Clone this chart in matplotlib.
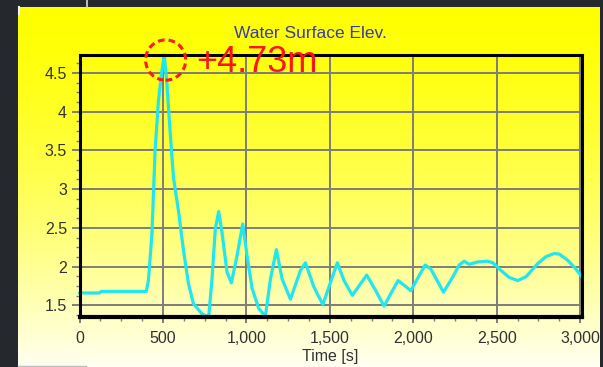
import numpy as np
import matplotlib
matplotlib.use("Agg")
import matplotlib.pyplot as plt
from matplotlib.patches import Ellipse
from matplotlib.lines import Line2D
from matplotlib.ticker import MultipleLocator, FuncFormatter

# ---- data ----
time_s = [0, 120, 130, 400, 413, 434, 453, 473, 494, 508, 524, 544, 563, 593,
          623, 653, 683, 734, 774, 794, 814, 834, 854, 884, 910, 944, 978,
          1004, 1034, 1074, 1114, 1144, 1180, 1214, 1264, 1324, 1354, 1404,
          1458, 1545, 1585, 1635, 1721, 1775, 1825, 1865, 1909, 1945, 1985,
          2071, 2105, 2181, 2235, 2275, 2305, 2335, 2385, 2446, 2476, 2526,
          2575, 2626, 2676, 2746, 2796, 2846, 2876, 2926, 2966, 3010]
elev_m = [1.66, 1.66, 1.68, 1.68, 1.82, 2.42, 3.50, 4.14, 4.53, 4.73, 4.36,
          3.71, 3.15, 2.72, 2.21, 1.78, 1.52, 1.39, 1.35, 1.84, 2.49, 2.71,
          2.44, 1.93, 1.79, 2.14, 2.55, 2.14, 1.72, 1.46, 1.36, 1.84, 2.22,
          1.84, 1.58, 1.95, 2.05, 1.74, 1.51, 2.05, 1.82, 1.63, 1.89, 1.69,
          1.49, 1.65, 1.82, 1.76, 1.69, 2.02, 1.97, 1.67, 1.86, 2.02, 2.07,
          2.03, 2.06, 2.07, 2.05, 1.95, 1.86, 1.82, 1.87, 2.04, 2.13, 2.17,
          2.16, 2.08, 1.99, 1.87]
x_ticks = [0, 500, 1000, 1500, 2000, 2500, 3000]
y_ticks = [1.5, 2, 2.5, 3, 3.5, 4, 4.5]
title_text = "Water Surface Elev."
xlabel_text = "Time [s]"

plt.rcParams['font.family'] = ['Liberation Sans', 'DejaVu Sans']

W, H = 603, 367
fig = plt.figure(figsize=(W / 100, H / 100), dpi=100)
fig.patch.set_facecolor('#25292e')

# yellow gradient panel
bg = fig.add_axes([18 / W, 0, (600 - 18) / W, (H - 7) / H])
bg.set_axis_off()
n = 256
frac = np.linspace(0, 1, n)[:, None]  # 0 top -> 1 bottom
blue = (frac ** 1.5) * 0.95
green = np.ones_like(frac)
grad = np.dstack([np.ones((n, 1)), green, blue])
bg.imshow(grad, aspect='auto', extent=[0, 1, 0, 1], interpolation='bilinear')
bg.set_xlim(0, 1)
bg.set_ylim(0, 1)

# small window decorations
fig.add_artist(Line2D([86.5 / W, 86.5 / W], [1 - 7 / H, 1], color='#d8d8d8', lw=1.2))
fig.add_artist(Line2D([18 / W, 86 / W], [1.5 / H, 1.5 / H], color='#bcbcbc', lw=1.0))
fig.add_artist(Line2D([19 / W, 19 / W], [1 - 14 / H, 1 - 7 / H], color='#f4f4f4', lw=1.5))

# main axes
L, R, T, B = 79.5, 581.5, 55, 317
ax = fig.add_axes([L / W, 1 - B / H, (R - L) / W, (B - T) / H])
ax.set_facecolor('none')

ax.plot(time_s, elev_m, color='#22e6ef', lw=2.3, solid_joinstyle='round',
        solid_capstyle='round', zorder=3, clip_on=False)

ax.set_xlim(0, 3008)
ax.set_ylim(1.35, 4.73)
ax.set_xticks(x_ticks)
ax.set_yticks(y_ticks)
ax.xaxis.set_minor_locator(MultipleLocator(125))
ax.yaxis.set_minor_locator(MultipleLocator(0.125))
ax.xaxis.set_major_formatter(FuncFormatter(lambda v, p: f"{v:,.0f}"))
ax.yaxis.set_major_formatter(FuncFormatter(lambda v, p: f"{v:g}"))

ax.grid(True, which='major', color='#7d7d7d', lw=1.4, zorder=1)
ax.set_axisbelow(True)
for side, s in ax.spines.items():
    s.set_color('black')
    s.set_linewidth(2.2)
    s.set_zorder(4)
ax.spines['bottom'].set_linewidth(3.0)

ax.tick_params(axis='both', which='both', direction='out', color='#7d7d7d',
               labelcolor='#333333', labelsize=11.5)
ax.tick_params(axis='y', which='major', length=6, width=1.4, pad=3)
ax.tick_params(axis='y', which='minor', length=3, width=1.0)
ax.tick_params(axis='x', which='major', length=4, width=1.4, pad=6)
ax.tick_params(axis='x', which='minor', length=3, width=1.0)

ax.set_xlabel(xlabel_text, fontsize=11.5, color='#333333', labelpad=0)
ax.xaxis.set_label_coords(0.5, (B - 356) / (B - T), transform=ax.transAxes)
ax.xaxis.label.set_va('center')

fig.text(310 / W, 1 - 33 / H, title_text, ha='center', va='center',
         fontsize=12.5, color='#3b3ba6')

# peak annotation
i_peak = int(np.argmax(elev_m))
peak_t, peak_v = time_s[i_peak], elev_m[i_peak]
circ = Ellipse((peak_t + 8, peak_v - 0.065), width=240, height=0.52,
               fill=False, edgecolor='#ff1a1a', lw=2.2, linestyle=(0, (2.2, 1.3)),
               transform=ax.transData, clip_on=False, zorder=6)
ax.add_patch(circ)
fig.text(196 / W, 1 - 62 / H, f"+{peak_v:.2f}m", ha='left', va='center',
         fontsize=26, color='#ff1414')

fig.savefig('out.png', dpi=100, facecolor=fig.get_facecolor())
